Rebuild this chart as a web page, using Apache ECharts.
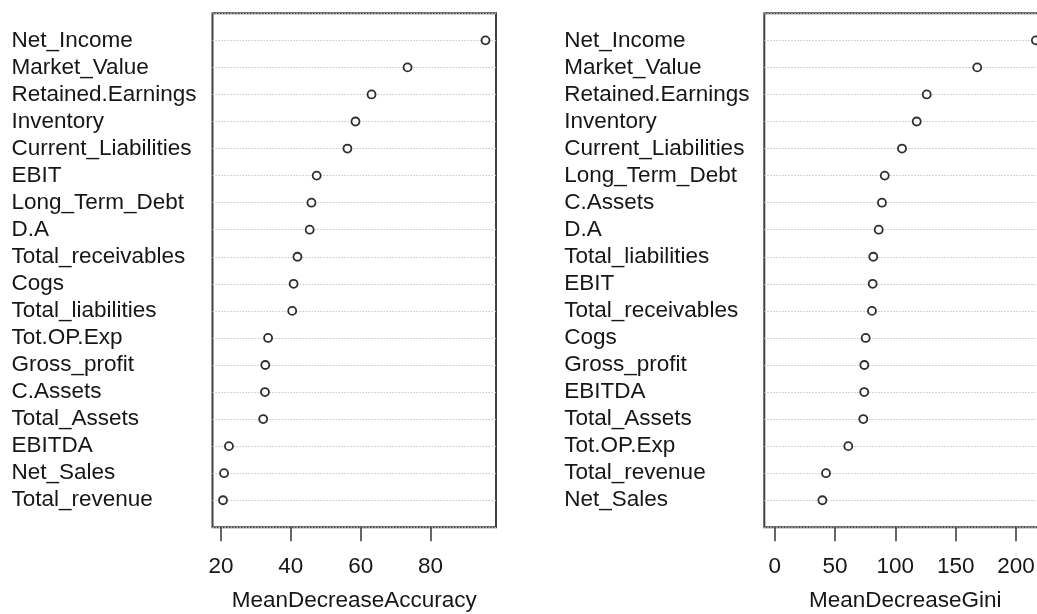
<!DOCTYPE html>
<html>
<head>
<meta charset="utf-8">
<title>Variable importance</title>
<script src="https://cdn.jsdelivr.net/npm/echarts/dist/echarts.min.js"></script>
<style>
  html, body { margin: 0; padding: 0; background: #fff; }
  #chart { width: 1037px; height: 614px; }
</style>
</head>
<body>
<div id="chart"></div>
<script>
// Mean decrease in accuracy, sorted from most to least important
const accuracyVars = [
  'Net_Income', 'Market_Value', 'Retained.Earnings', 'Inventory',
  'Current_Liabilities', 'EBIT', 'Long_Term_Debt', 'D.A',
  'Total_receivables', 'Cogs', 'Total_liabilities', 'Tot.OP.Exp',
  'Gross_profit', 'C.Assets', 'Total_Assets', 'EBITDA', 'Net_Sales',
  'Total_revenue'
];
const accuracyValues = [
  95.7, 73.4, 63.1, 58.5, 56.2, 47.4, 45.9, 45.4, 41.9, 40.8, 40.4,
  33.5, 32.7, 32.6, 32.1, 22.3, 20.9, 20.6
];

// Mean decrease in Gini impurity, sorted from most to least important
const giniVars = [
  'Net_Income', 'Market_Value', 'Retained.Earnings', 'Inventory',
  'Current_Liabilities', 'Long_Term_Debt', 'C.Assets', 'D.A',
  'Total_liabilities', 'EBIT', 'Total_receivables', 'Cogs',
  'Gross_profit', 'EBITDA', 'Total_Assets', 'Tot.OP.Exp',
  'Total_revenue', 'Net_Sales'
];
const giniValues = [
  216.5, 167.9, 126.0, 117.7, 105.5, 91.2, 88.9, 86.2, 81.7, 81.2,
  80.6, 75.4, 74.3, 74.2, 73.4, 61.0, 42.5, 39.5
];

const accuracyTicks = [20, 40, 60, 80];
const giniTicks = [0, 50, 100, 150, 200];

const FONT = '"Liberation Sans", Arial, sans-serif';
const TEXT = '#161616';
const FRAME = '#404040';

// Axis range with a 4% pad on each side of [lo, hi]
function padRange(lo, hi) {
  const pad = (hi - lo) * 0.04;
  return [lo - pad, hi + pad];
}
const accRange = padRange(Math.min(...accuracyValues), Math.max(...accuracyValues));
const giniRange = padRange(0, Math.max(...giniValues));

// One empty slot above and below the rows leaves a full row of space at each end
function rows(names) { return [''].concat(names, ['']); }

function xAxisFor(gridIndex, range, ticks, name) {
  return {
    type: 'value', gridIndex, min: range[0], max: range[1],
    name, nameLocation: 'middle', nameGap: 62,
    nameTextStyle: { fontFamily: FONT, fontSize: 22.5, color: TEXT },
    axisLine: { show: false },
    splitLine: { show: false },
    axisTick: { show: true, customValues: ticks, length: 14, lineStyle: { color: FRAME, width: 1.6 } },
    axisLabel: { show: true, customValues: ticks, margin: 28, fontFamily: FONT, fontSize: 22.5, color: TEXT,
      formatter: v => String(Math.round(v)) }
  };
}

function yAxisFor(gridIndex, names, margin) {
  return {
    type: 'category', gridIndex, data: rows(names), inverse: true, boundaryGap: false,
    axisLine: { show: false }, axisTick: { show: false },
    axisLabel: { interval: 0, align: 'left', margin, fontFamily: FONT, fontSize: 22.5, color: TEXT },
    splitLine: { show: true, interval: 0, lineStyle: { color: '#c4c4c4', width: 1, type: [1.4, 1.6] } }
  };
}

function dots(index, names, values) {
  return {
    type: 'scatter', xAxisIndex: index, yAxisIndex: index,
    data: names.map((n, i) => [values[i], n]),
    symbol: 'circle', symbolSize: 8,
    itemStyle: { color: '#ffffff', borderColor: '#2e2e2e', borderWidth: 1.8, opacity: 1 },
    emphasis: { disabled: true }, silent: true, z: 5
  };
}

const gridBase = {
  top: 13.3, bottom: 86.7, show: true, borderColor: FRAME, borderWidth: 2,
  backgroundColor: 'transparent', containLabel: false, outerBoundsMode: 'none'
};

const chart = echarts.init(document.getElementById('chart'), null, { renderer: 'canvas' });
chart.setOption({
  animation: false,
  backgroundColor: '#ffffff',
  grid: [
    Object.assign({ left: 212.5, right: 541 }, gridBase),
    Object.assign({ left: 764.3, right: -9.3 }, gridBase)
  ],
  xAxis: [
    xAxisFor(0, accRange, accuracyTicks, 'MeanDecreaseAccuracy'),
    xAxisFor(1, giniRange, giniTicks, 'MeanDecreaseGini')
  ],
  yAxis: [
    yAxisFor(0, accuracyVars, 201),
    yAxisFor(1, giniVars, 200)
  ],
  series: [
    dots(0, accuracyVars, accuracyValues),
    dots(1, giniVars, giniValues)
  ]
});
</script>
</body>
</html>
